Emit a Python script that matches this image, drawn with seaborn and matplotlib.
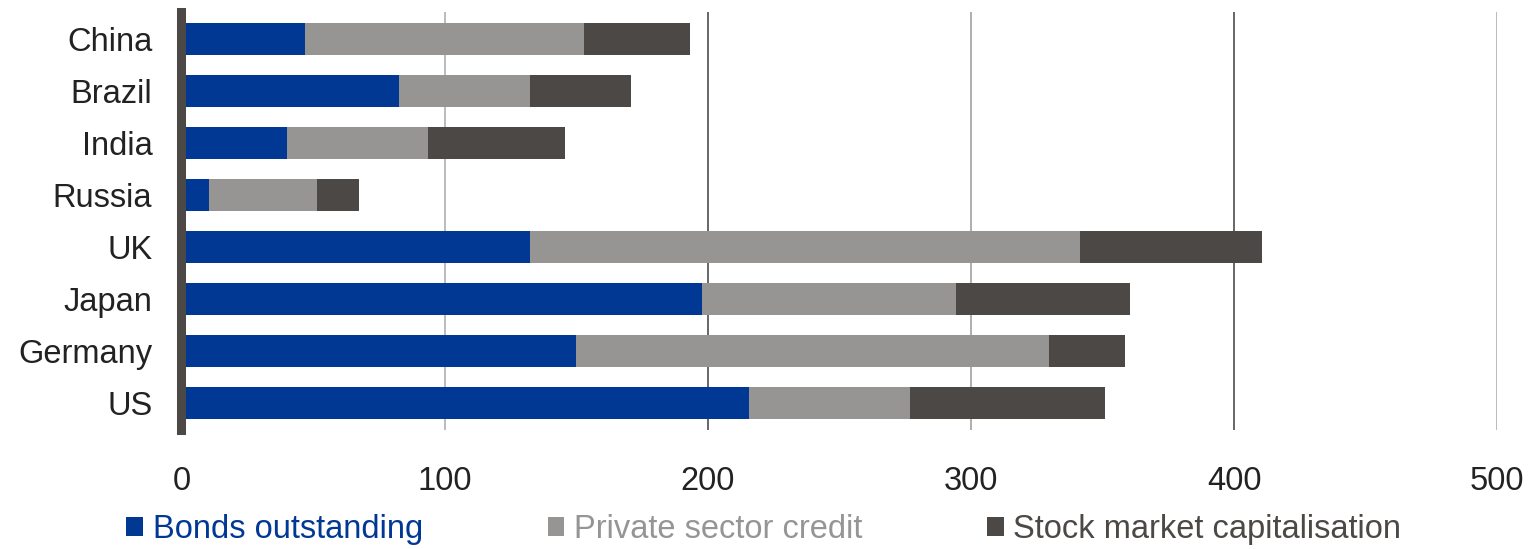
import matplotlib
matplotlib.use("Agg")
import matplotlib.pyplot as plt
import seaborn as sns
import numpy as np
import pandas as pd
from matplotlib.patches import Patch

countries = ["China", "Brazil", "India", "Russia", "UK", "Japan", "Germany", "US"]
bonds = [46.8, 82.6, 40.3, 10.3, 132.4, 197.9, 149.9, 215.8]
private_credit = [106.2, 49.8, 53.3, 41.1, 208.9, 96.6, 179.6, 61.2]
stock_cap = [40.3, 38.5, 52.1, 16.0, 69.3, 65.9, 28.9, 73.8]
series_names = ["Bonds outstanding", "Private sector credit", "Stock market capitalisation"]
xticks = [0, 100, 200, 300, 400, 500]

c_blue = "#003893"
c_grey = "#969594"
c_dark = "#4c4846"

sns.set_theme(style="white")
plt.rcParams["font.family"] = ["Liberation Sans", "DejaVu Sans"]

fig = plt.figure(figsize=(15.31, 5.49), dpi=100)
ax = fig.add_axes([0.1185, 0.2168, 0.978 - 0.1185, 0.978 - 0.2168])

df = pd.DataFrame({"country": countries, "bonds": bonds,
                   "private": private_credit, "stock": stock_cap})
df["c1"] = df["bonds"]
df["c2"] = df["bonds"] + df["private"]
df["c3"] = df["c2"] + df["stock"]

for col, colr in [("c3", c_dark), ("c2", c_grey), ("c1", c_blue)]:
    sns.barplot(data=df, x=col, y="country", orient="h", color=colr,
                saturation=1, width=0.62, ax=ax, linewidth=0)

ax.set_xlim(0, 500)
ax.set_ylim(7.52, -0.52)
ax.set_xticks(xticks)
ax.set_xticklabels([str(t) for t in xticks])
ax.set_xlabel("")
ax.set_ylabel("")

ax.grid(axis="x", linewidth=1.3, zorder=0)
ax.set_axisbelow(True)
grid_cols = ["#ffffff", "#b5b5b5", "#5a5a5a", "#a8a8a8", "#5a5a5a", "#b5b5b5"]
for gl, gc in zip(ax.get_xgridlines(), grid_cols):
    gl.set_color(gc)

for s in ["top", "right", "bottom"]:
    ax.spines[s].set_visible(False)
ax.spines["left"].set_color("#4c4846")
ax.spines["left"].set_linewidth(6.5)
ax.spines["left"].set_zorder(5)

ax.tick_params(axis="x", length=0, pad=26, labelsize=23.5, labelcolor="#222222")
ax.tick_params(axis="y", length=0, pad=21, labelsize=23.5, labelcolor="#222222")

handles = [Patch(facecolor=c, edgecolor="none") for c in (c_blue, c_grey, c_dark)]
leg = fig.legend(handles, series_names, loc="center", bbox_to_anchor=(0.499, 0.035),
                 ncol=3, frameon=False, fontsize=23.5, handlelength=0.52,
                 handleheight=0.52, handletextpad=0.3, columnspacing=3.8,
                 borderpad=0, borderaxespad=0)
for txt, c in zip(leg.get_texts(), (c_blue, c_grey, c_dark)):
    txt.set_color(c)

fig.savefig("out.png", dpi=100)
